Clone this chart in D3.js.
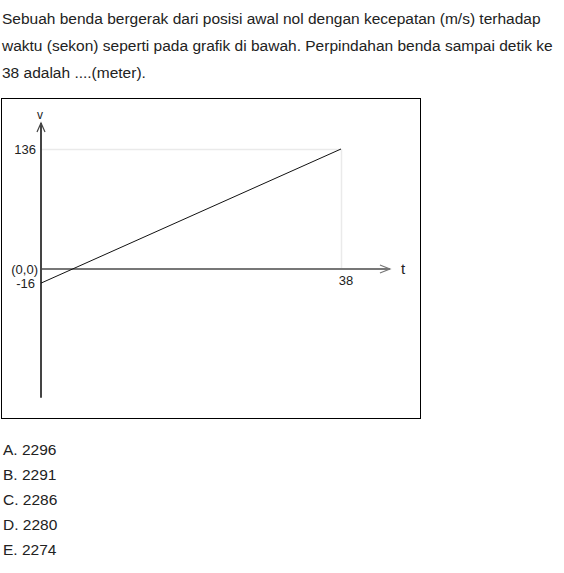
<!DOCTYPE html>
<html><head><meta charset="utf-8">
<script src="https://cdn.jsdelivr.net/npm/d3@7"></script>
<style>
body{margin:0;background:#fff;font-family:"Liberation Sans",Arial,sans-serif;}
#q{position:absolute;left:2px;top:5px;width:562px;font-size:15.5px;line-height:27px;color:#222;white-space:nowrap;}
#opts{position:absolute;left:3px;top:437px;font-size:15.5px;line-height:25px;color:#222;}
svg{position:absolute;left:0;top:0;}
</style></head><body>
<div id="q"></div>
<svg id="chart" width="564" height="573"></svg>
<div id="opts"></div>
<script>
const questionLines = [
  "Sebuah benda bergerak dari posisi awal nol dengan kecepatan (m/s) terhadap",
  "waktu (sekon) seperti pada grafik di bawah. Perpindahan benda sampai detik ke",
  "38 adalah ....(meter)."
];
const options = ["A. 2296","B. 2291","C. 2286","D. 2280","E. 2274"];
const times = [0, 38];
const velocities = [-16, 136];
const yTickLabels = ["136", "-16"];
const xTickLabels = ["38"];
const originLabel = "(0,0)";

d3.select("#q").selectAll("div").data(questionLines).join("div").text(d=>d);
d3.select("#opts").selectAll("div").data(options).join("div").text(d=>d);

const svg = d3.select("#chart");
const x = d3.scaleLinear().domain([0, 38]).range([41, 341]);
const y = d3.scaleLinear().domain([0, 136]).range([269, 149]);

// frame
svg.append("rect").attr("x",1.5).attr("y",98.5).attr("width",419).attr("height",320)
  .attr("fill","none").attr("stroke","#000").attr("stroke-width",1);

const g = svg.append("g");
// guide lines
g.append("line").attr("x1",x(0)).attr("x2",x(times[1])).attr("y1",y(velocities[1])+0.5).attr("y2",y(velocities[1])+0.5)
  .attr("stroke","#eaeaea").attr("stroke-width",1.5);
g.append("line").attr("x1",x(times[1])+0.5).attr("x2",x(times[1])+0.5).attr("y1",y(velocities[1])).attr("y2",y(0))
  .attr("stroke","#eaeaea").attr("stroke-width",1.5);

// x axis
const xEnd = x(44.2);
g.append("line").attr("x1",x(0)).attr("x2",xEnd).attr("y1",y(0)).attr("y2",y(0))
  .attr("stroke","#777").attr("stroke-width",2);
g.append("path").attr("d",`M${xEnd-10},${y(0)-4}L${xEnd},${y(0)}L${xEnd-10},${y(0)+4}`)
  .attr("fill","none").attr("stroke","#777").attr("stroke-width",1.2);

// y axis
const yTop = y(165.5), yBot = y(-146);
g.append("line").attr("x1",x(0)).attr("x2",x(0)).attr("y1",yTop).attr("y2",yBot)
  .attr("stroke","#444").attr("stroke-width",2);
g.append("path").attr("d",`M${x(0)-4},${yTop+9}L${x(0)},${yTop}L${x(0)+4},${yTop+9}`)
  .attr("fill","none").attr("stroke","#444").attr("stroke-width",1.2);

// data line
g.append("path").datum(times.map((t,i)=>[t,velocities[i]]))
  .attr("d", d3.line().x(d=>x(d[0])).y(d=>y(d[1])))
  .attr("fill","none").attr("stroke","#111").attr("stroke-width",1);

// labels
const lab = svg.append("g").attr("font-family","'Liberation Sans',Arial,sans-serif").attr("font-size",13).attr("fill","#222");
lab.append("text").attr("x",x(0)-1).attr("y",119).attr("text-anchor","middle").attr("font-size",12).text("v");
lab.append("text").attr("x",x(0)-5).attr("y",y(136)+5).attr("text-anchor","end").text(yTickLabels[0]);
lab.append("text").attr("x",x(0)-3).attr("y",y(0)+5).attr("text-anchor","end").text(originLabel);
lab.append("text").attr("x",x(0)-6).attr("y",y(-16)+5).attr("text-anchor","end").text(yTickLabels[1]);
lab.append("text").attr("x",x(38)+5).attr("y",y(0)+16).attr("text-anchor","middle").text(xTickLabels[0]);
lab.append("text").attr("x",403).attr("y",y(0)+5).attr("text-anchor","middle").attr("font-size",15).text("t");
</script>
</body></html>
